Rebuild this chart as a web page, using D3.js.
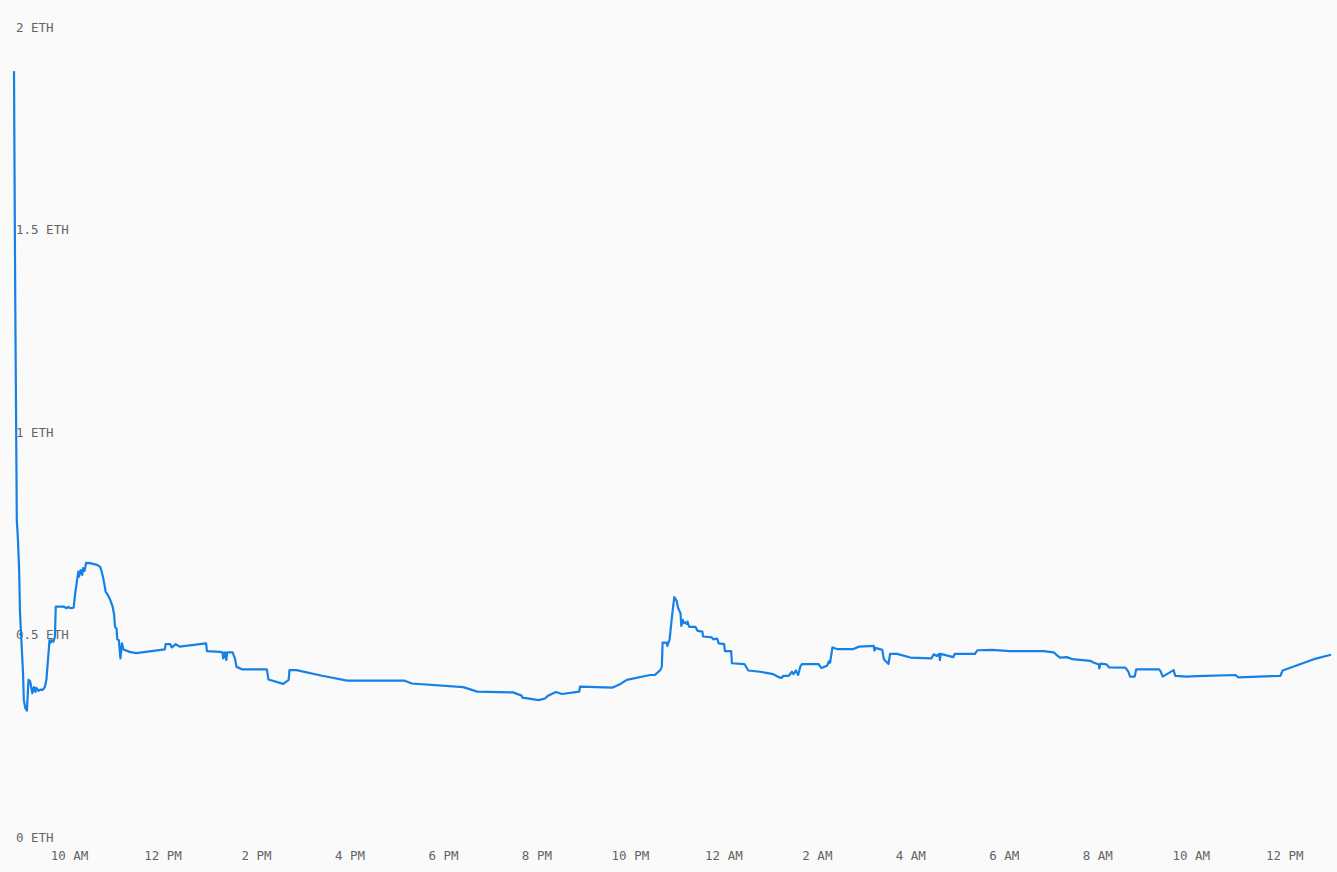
<!DOCTYPE html>
<html>
<head>
<meta charset="utf-8">
<script src="https://cdn.jsdelivr.net/npm/d3@7"></script>
<style>
  html, body { margin: 0; padding: 0; background: #fafafa; }
  svg { display: block; }
  .axis text { font-family: "DejaVu Sans Mono", "Liberation Mono", monospace; font-size: 12.5px; fill: #646464; }
</style>
</head>
<body>
<svg id="chart" width="1337" height="872"></svg>
<script>
// balance readings, day 1 = 2024-03-05, day 2 = 2024-03-06
var day1Times = ["08:49:24","08:51","08:53","08:54:30","08:56","08:57","08:58","09:01","09:02","09:04","09:06","09:08","09:10","09:13","09:15","09:17","09:18","09:21","09:23","09:26","09:29","09:31","09:33","09:35","09:36","09:38","09:40","09:42","09:43","09:53","09:57","09:59","10:02","10:06","10:08","10:11","10:12","10:13","10:15","10:17","10:18","10:20","10:22","10:27","10:36","10:40","10:42","10:44","10:47","10:50","10:53","10:56","10:58","10:59","11:01","11:02","11:04","11:06","11:08","11:10","11:18","11:26","12:03","12:04","12:10","12:12","12:17","12:22","12:56","12:57","13:14","13:17","13:18","13:20","13:22","13:23","13:30","13:33","13:35","13:42","14:14","14:16","14:35","14:42","14:43","14:52","15:25","15:57","17:11","17:20","18:26","18:44","19:30","19:41","19:42","20:03","20:11","20:15","20:25","20:33","20:55","20:56","21:38","21:48","21:56","22:26","22:32","22:39","22:41","22:42","22:47","22:48","22:51","22:54","22:57","23:00","23:02","23:05","23:06","23:08","23:09","23:11","23:13","23:14","23:16","23:24","23:27","23:33","23:34","23:45","23:47","23:52","23:54"];
var day1Values = [1.896,1.331,0.788,0.738,0.664,0.565,0.523,0.410,0.343,0.323,0.317,0.393,0.390,0.360,0.375,0.363,0.373,0.366,0.369,0.368,0.375,0.393,0.442,0.491,0.484,0.491,0.487,0.500,0.574,0.574,0.570,0.573,0.570,0.571,0.607,0.648,0.660,0.648,0.664,0.652,0.669,0.662,0.682,0.681,0.677,0.672,0.660,0.644,0.611,0.602,0.590,0.574,0.553,0.524,0.520,0.493,0.491,0.446,0.483,0.468,0.462,0.459,0.468,0.481,0.481,0.473,0.481,0.475,0.483,0.464,0.462,0.461,0.446,0.461,0.442,0.461,0.461,0.446,0.425,0.419,0.419,0.394,0.383,0.393,0.417,0.417,0.403,0.391,0.391,0.384,0.375,0.364,0.362,0.354,0.349,0.343,0.347,0.354,0.363,0.358,0.364,0.376,0.374,0.383,0.393,0.405,0.405,0.417,0.425,0.485,0.485,0.477,0.493,0.549,0.597,0.588,0.570,0.557,0.526,0.541,0.533,0.535,0.531,0.537,0.524,0.524,0.514,0.512,0.500,0.498,0.493,0.495,0.483];
var day2Times = ["00:01","00:02","00:10","00:11","00:27","00:32","00:47","01:04","01:12","01:15","01:17","01:24","01:28","01:30","01:33","01:36","01:39","01:41","02:02","02:06","02:13","02:16","02:17","02:20","02:26","02:47","02:54","03:13","03:14","03:15","03:24","03:26","03:32","03:34","03:43","04:00","04:27","04:30","04:34","04:37","04:38","04:39","04:55","04:57","05:23","05:26","05:45","06:08","06:51","07:04","07:08","07:12","07:21","07:28","07:51","07:55","08:02","08:02:30","08:04","08:12","08:15","08:36","08:40","08:42","08:48","08:50","09:19","09:21","09:24","09:38","09:40","09:55","10:08","10:57","11:01","11:55","11:58","12:38","13:00"];
var day2Values = [0.481,0.464,0.464,0.434,0.432,0.416,0.413,0.407,0.399,0.398,0.403,0.403,0.413,0.407,0.416,0.405,0.427,0.432,0.432,0.422,0.428,0.440,0.435,0.473,0.469,0.469,0.475,0.477,0.465,0.472,0.467,0.444,0.432,0.457,0.457,0.448,0.446,0.456,0.452,0.457,0.442,0.457,0.449,0.457,0.457,0.466,0.467,0.464,0.464,0.461,0.454,0.448,0.449,0.444,0.440,0.436,0.431,0.421,0.433,0.431,0.424,0.423,0.413,0.401,0.401,0.419,0.419,0.415,0.401,0.417,0.403,0.401,0.402,0.405,0.399,0.403,0.416,0.444,0.455];
var yTicks = [0, 0.5, 1, 1.5, 2];
var unit = "ETH";

var width = 1337, height = 872;

function toPoints(day, times, values) {
  return times.map(function(t, i) {
    var hms = t.split(":").map(Number);
    return { time: new Date(2024, 2, day, hms[0], hms[1], hms[2] || 0), value: values[i] };
  });
}
var data = toPoints(5, day1Times, day1Values).concat(toPoints(6, day2Times, day2Values));

var svg = d3.select("#chart");

var xScale = d3.scaleTime()
  .domain(d3.extent(data, function(d) { return d.time; }))
  .range([14, 1331]);

var yScale = d3.scaleLinear()
  .domain([0, 2])
  .range([839, 29]);

var yAxis = d3.axisRight(yScale)
  .tickValues(yTicks)
  .tickSize(0)
  .tickPadding(0)
  .tickFormat(function(d) { return d + " " + unit; });

var xAxis = d3.axisBottom(xScale)
  .ticks(d3.timeHour.every(2))
  .tickSize(0)
  .tickPadding(3)
  .tickFormat(d3.timeFormat("%-I %p"));

var gy = svg.append("g")
  .attr("class", "axis")
  .attr("transform", "translate(16,0)")
  .call(yAxis);
gy.select(".domain").remove();
gy.selectAll("text").attr("dy", "0.16em");

var gx = svg.append("g")
  .attr("class", "axis")
  .attr("transform", "translate(0,848)")
  .call(xAxis);
gx.select(".domain").remove();

var line = d3.line()
  .x(function(d) { return xScale(d.time); })
  .y(function(d) { return yScale(d.value); });

svg.append("path")
  .datum(data)
  .attr("fill", "none")
  .attr("stroke", "#1580e5")
  .attr("stroke-width", 2.2)
  .attr("stroke-linejoin", "round")
  .attr("d", line);
</script>
</body>
</html>
